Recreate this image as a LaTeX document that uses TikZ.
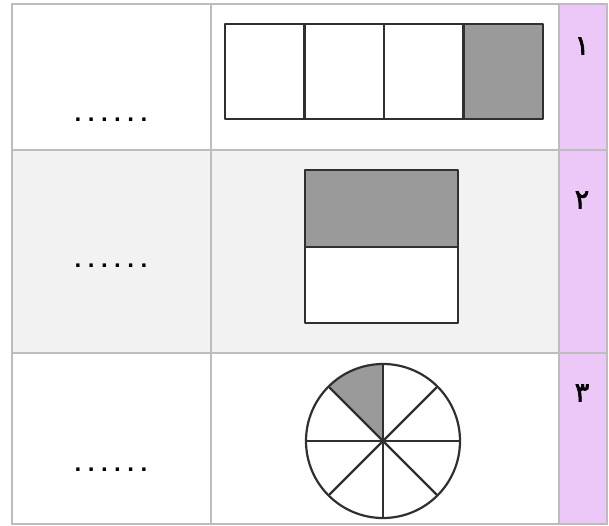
\documentclass[tikz,border=0pt]{standalone}
\usepackage{fontspec}
\newfontfamily\digitfont[Script=Arabic,FakeBold=2.5]{DejaVu Sans}
\newfontfamily\dotfont{DejaVu Sans Bold}
\definecolor{gridgray}{HTML}{BDBDBD}
\definecolor{rowgray}{HTML}{F2F2F2}
\definecolor{pinkcol}{HTML}{EBC8F7}
\definecolor{figline}{HTML}{303030}
\definecolor{shadegray}{HTML}{9A9A9A}
\newcommand\dotrow{\dotfont\fontsize{19}{19}\selectfont
  \makebox[13.2pt]{.}\makebox[13.2pt]{.}\makebox[13.2pt]{.}\makebox[13.2pt]{.}\makebox[13.2pt]{.}\makebox[13.2pt]{.}}
\begin{document}
\begin{tikzpicture}[x=1pt,y=-1pt,
  gridline/.style={draw=gridgray, line width=1.2pt},
  figstyle/.style={draw=figline, line width=2.6pt, line join=round},
  shaded/.style={fill=shadegray},
  numlabel/.style={font=\digitfont\fontsize{27}{27}\selectfont, text=black, inner sep=0pt},
  blank/.style={font=\dotrow, inner sep=0pt, text=black}]
\useasboundingbox (0,0) rectangle (609,526);
\fill[white] (0,0) rectangle (609,526);
% row backgrounds
\fill[rowgray] (12,150) rectangle (559,353);
\fill[pinkcol] (559,4) rectangle (607,524);
% grid
\draw[gridline] (12,4) rectangle (607,524);
\draw[gridline] (211,4) -- (211,524);
\draw[gridline] (559,4) -- (559,524);
\draw[gridline] (12,150) -- (607,150);
\draw[gridline] (12,353) -- (607,353);
% row numbers
\node[numlabel] (n1) at (582,46) {۱};
\node[numlabel] (n2) at (582,200) {۲};
\node[numlabel] (n3) at (582,393) {۳};
% blanks
\node[blank, anchor=base] (b1) at (111,122) {};
\node[blank, anchor=base] (b2) at (111,267) {};
\node[blank, anchor=base] (b3) at (111,471) {};
% figure 1: four parts, one shaded
\fill[white] (225,24) rectangle (543,119);
\fill[shaded] (463.5,24) rectangle (543,119);
\draw[figstyle] (225,24) rectangle (543,119);
\draw[figstyle] (304.5,24) -- (304.5,119);
\draw[figstyle] (384,24) -- (384,119);
\draw[figstyle] (463.5,24) -- (463.5,119);
% figure 2: two parts, top shaded
\fill[white] (305,247) rectangle (458,323);
\fill[shaded] (305,170) rectangle (458,247);
\draw[figstyle] (305,170) rectangle (458,323);
\draw[figstyle] (305,247) -- (458,247);
% figure 3: circle in eight parts
\begin{scope}[shift={(383,441)}, y=1pt]
  \fill[white] (0,0) circle[radius=77];
  \fill[shaded] (0,0) -- (90:77) arc[start angle=90, end angle=135, radius=77] -- cycle;
  \foreach \a in {0,45,...,315} \draw[figline, line width=2.4pt] (0,0) -- (\a:77);
  \draw[figline, line width=2.2pt] (0,0) circle[radius=77];
  \fill[figline] (0,0) circle[radius=3];
\end{scope}
\end{tikzpicture}
\end{document}
